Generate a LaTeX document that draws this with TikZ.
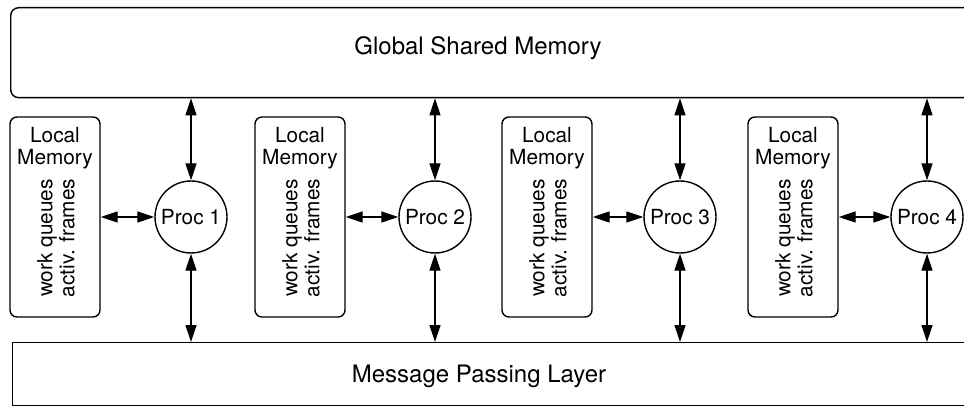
\documentclass[tikz,border=0pt]{standalone}
\usepackage{fontspec}
\setmainfont{TeX Gyre Heros}
\usetikzlibrary{arrows.meta}
\begin{document}
\begin{tikzpicture}[x=1pt,y=-1pt,
  every node/.style={font=\fontsize{20.8}{22}\selectfont},
  layer/.style={draw, line width=1.4pt, inner sep=0pt, anchor=north west},
  layerlabel/.style={font=\fontsize{24}{28}\selectfont},
  membox/.style={draw, line width=1.4pt, rounded corners=7pt,
    minimum width=90pt, minimum height=200pt, inner sep=0pt},
  memtext/.style={anchor=base, inner sep=0pt},
  memrot/.style={rotate=90, align=center, inner sep=0pt},
  proc/.style={draw, circle, line width=1.4pt, minimum size=72pt, inner sep=0pt},
  link/.style={line width=1.3pt,
    {Triangle[length=17pt,width=11pt]}-{Triangle[length=17pt,width=11pt]}}
]
\useasboundingbox (0,0) rectangle (964,406);
\clip (0,0) rectangle (964,406);

% shared memory on top, message layer at the bottom
\node[layer, rounded corners=8pt, minimum width=1000pt, minimum height=90pt] (gsm) at (10,7) {};
\node[layerlabel] (gsmlabel) at (478,48) {Global Shared Memory};
\node[layer, minimum width=1000pt, minimum height=63pt] (mpl) at (12,342) {};
\node[layerlabel] (mpllabel) at (479,376) {Message Passing Layer};

% one local memory and one processor per node
\foreach \i/\mx/\px in {1/55/191, 2/300/435, 3/547/680, 4/793/927}{
  \node[membox] (m\i) at (\mx,217) {};
  \node[memtext] (m\i a) at (\mx,143) {Local};
  \node[memtext] (m\i b) at (\mx,165) {Memory};
  \node[memrot] (m\i c) at (\mx+1,238) {work queues\\activ. frames};
  \node[proc] (p\i) at (\px,217) {Proc \i};
  \draw[link] (m\i.east) -- (p\i.west);
  \draw[link] (p\i.north) -- (p\i.north |- gsm.south);
  \draw[link] (p\i.south) -- (p\i.south |- mpl.north);
}
\end{tikzpicture}
\end{document}
